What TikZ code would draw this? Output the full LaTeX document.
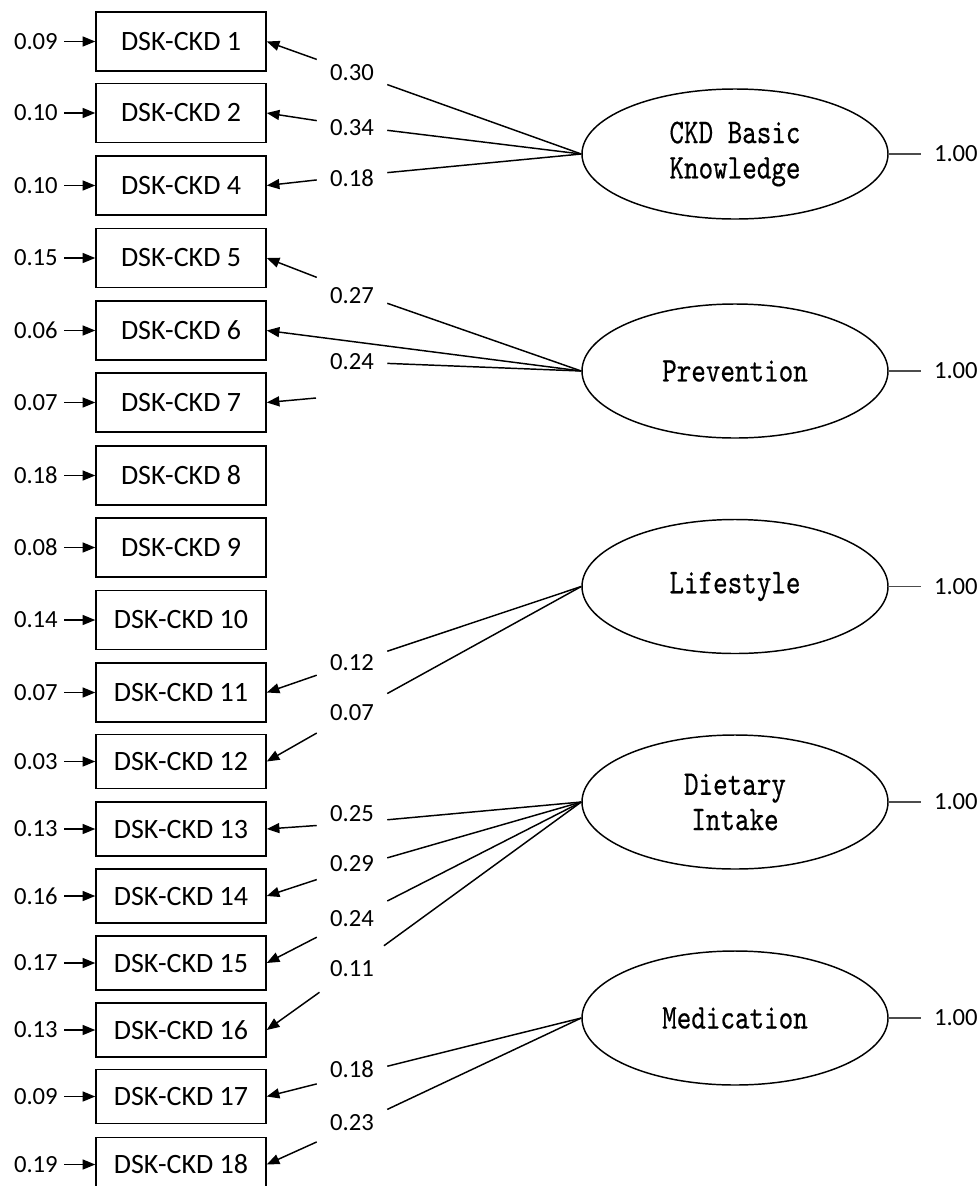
\documentclass[tikz,border=0pt]{standalone}
\usepackage{fontspec}
\setmainfont{Carlito}
\newfontfamily\ellfont{lmmono10-regular.otf}[FakeStretch=0.8,FakeBold=0.45]
\usetikzlibrary{shapes.geometric,arrows.meta,calc}
\begin{document}
\begin{tikzpicture}[x=0.75pt,y=-0.75pt,
 box/.style={draw,line width=1.1pt,minimum width=127.5pt,inner sep=0pt,font=\fontsize{21}{24}\selectfont},
 tall/.style={box,minimum height=44.25pt},
 short/.style={box,minimum height=40.5pt},
 lat/.style={draw,ellipse,line width=1.1pt,minimum width=229.5pt,minimum height=100.5pt,inner sep=0pt,align=center,font=\ellfont\fontsize{26}{26.5}\selectfont},
 num/.style={font=\fontsize{18.5}{20}\selectfont,inner sep=0pt},
 gap/.style={minimum width=52.5pt,minimum height=34.5pt,inner sep=0pt},
 err/.style={num,anchor=east,inner xsep=4.5pt},
 varlab/.style={num,inner xsep=9.75pt},
 conn/.style={line width=1.1pt},
 arr/.style={conn,-{Triangle[length=9.5pt,width=7.5pt]}},
 var/.style={line width=0.8pt,black!70},
]
\useasboundingbox (0,0) rectangle (978,1186);
% observed variables
\foreach \n/\y/\e/\s in {1/41.5/0.09/tall, 2/113/0.10/tall, 4/185.5/0.10/tall, 5/258/0.15/tall,
  6/330.5/0.06/tall, 7/402.5/0.07/tall, 8/475.5/0.18/tall, 9/547.5/0.08/tall, 10/620/0.14/tall,
  11/692.5/0.07/tall, 12/761.5/0.03/short, 13/829/0.13/short, 14/896/0.16/short, 15/963/0.17/short,
  16/1030/0.13/short, 17/1096.5/0.09/short, 18/1164.5/0.19/short}{
  \node[\s] (b\n) at (181,\y) {DSK-CKD \n};
  \node[err] (e\n) at (64,\y) {\e};
  \draw[arr] (e\n.east) -- (b\n.west);
}
% latent variables
\node[lat,minimum height=97.5pt] (L1) at (735,154) {CKD Basic\\Knowledge};
\node[lat] (L2) at (735,371) {Prevention};
\node[lat] (L3) at (735,586.5) {Lifestyle};
\node[lat] (L4) at (735,802) {Dietary\\Intake};
\node[lat] (L5) at (735,1018) {Medication};
\foreach \l in {L1,L2,L3,L4,L5}{
  \node[varlab,anchor=west] (v\l) at ($(\l.east)+(32,0)$) {1.00};
  \draw[var] (\l.east) -- (v\l.west);
}
% loadings
\foreach \l/\b/\v/\g/\t in {L1/1/0.30/72/73, L1/2/0.34/126/128, L1/4/0.18/176/178, L2/5/0.27/291/296,
  L3/11/0.12/663/663, L3/12/0.07/713/713, L4/13/0.25/823/814, L4/14/0.29/868/864,
  L4/15/0.24/919/919, L4/16/0.11/969/969, L5/17/0.18/1075/1069, L5/18/0.23/1126/1123}{
  \node[gap] (g\b) at (352,\g) {};
  \node[num] (t\b) at (352,\t) {\v};
  \draw[conn] (\l.west) -- (g\b);
  \draw[arr] (g\b) -- (b\b.east);
}
\draw[arr] (L2.west) -- (b6.east);
\node[gap] (g7) at (352,362) {};
\node[num] (t7) at (352,362) {0.24};
\draw[conn] (L2.west) -- (g7);
\coordinate (c7) at (316,398);
\draw[arr] (c7) -- (b7.east);
\end{tikzpicture}
\end{document}
